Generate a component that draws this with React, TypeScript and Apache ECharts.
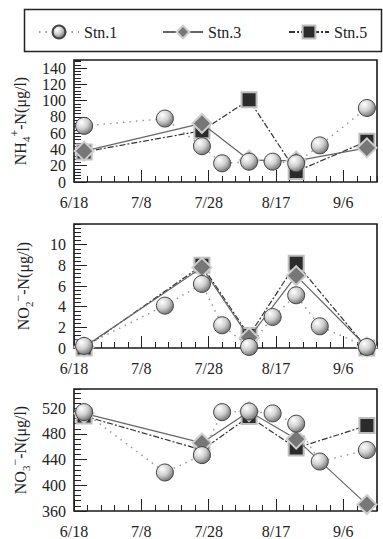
import React, { useEffect, useRef } from "react";
import * as echarts from "echarts";

// ---- data ----
const stn1Dates = ["6/21", "7/15", "7/26", "8/1", "8/9", "8/16", "8/23", "8/30", "9/13"];
const stn35Dates = ["6/21", "7/26", "8/9", "8/23", "9/13"];

const nh4Stn1 = [69, 78, 44, 23, 25, 25, 23, 45, 91];
const nh4Stn3 = [38, 72, 27, 26, 42];
const nh4Stn5 = [37, 63, 101, 13, 50];

const no2Stn1 = [0.2, 4.1, 6.2, 2.2, 0.1, 3.0, 5.1, 2.1, 0.1];
const no2Stn3 = [0.1, 7.8, 1.0, 7.0, 0.1];
const no2Stn5 = [0.0, 8.0, 1.2, 8.2, 0.0];

const no3Stn1 = [514, 420, 447, 514, 515, 512, 496, 437, 455];
const no3Stn3 = [512, 466, 515, 472, 370];
const no3Stn5 = [508, 455, 507, 458, 493];

const startDate = "6/18";
const xTickLabels = ["6/18", "7/8", "7/28", "8/17", "9/6"];

const FONT = "Liberation Serif";

function toDay(s: string) {
  const [m, d] = s.split("/").map(Number);
  return Date.UTC(2001, m - 1, d);
}
const day0 = toDay(startDate);
function offset(s: string) {
  return Math.round((toDay(s) - day0) / 86400000);
}
function fmtDay(v: number) {
  const dt = new Date(day0 + v * 86400000);
  return `${dt.getUTCMonth() + 1}/${dt.getUTCDate()}`;
}

const panels = [
  {
    top: 60,
    height: 122,
    min: 0,
    max: 150,
    major: 20,
    minor: 4,
    name: "{a|NH}{s|4}{p|+}{a|-N(μg/l)}",
    s1: nh4Stn1,
    s3: nh4Stn3,
    s5: nh4Stn5,
  },
  {
    top: 224,
    height: 124,
    min: 0,
    max: 12,
    major: 2,
    minor: 0.4,
    name: "{a|NO}{s|2}{p|−}{a|-N(μg/l)}",
    s1: no2Stn1,
    s3: no2Stn3,
    s5: no2Stn5,
  },
  {
    top: 389,
    height: 124,
    min: 360,
    max: 550,
    major: 40,
    minor: 8,
    name: "{a|NO}{s|3}{p|−}{a|-N(μg/l)}",
    s1: no3Stn1,
    s3: no3Stn3,
    s5: no3Stn5,
  },
];

export default function App() {
  const ref = useRef<HTMLDivElement>(null);
  useEffect(() => {
    if (!ref.current) return;
    const chart = echarts.init(ref.current, null, { renderer: "svg" });

    const circleColor = new echarts.graphic.RadialGradient(0.35, 0.3, 0.75, [
      { offset: 0, color: "#ffffff" },
      { offset: 0.5, color: "#d0d0d0" },
      { offset: 1, color: "#6e6e6e" },
    ]);

    const grids: any[] = [];
    const xAxes: any[] = [];
    const yAxes: any[] = [];
    const series: any[] = [];

    panels.forEach((p, i) => {
      grids.push({
        left: 74,
        width: 303,
        top: p.top,
        height: p.height,
        show: true,
        borderColor: "#1a1a1a",
        borderWidth: 1.6,
        backgroundColor: "transparent",
      });
      // minor x ticks (series axis)
      xAxes.push({
        type: "value",
        gridIndex: i,
        position: "bottom",
        min: 0,
        max: 90,
        interval: 4,
        axisLine: { show: false },
        axisTick: { show: true, inside: true, length: 6, lineStyle: { color: "#222", width: 1 } },
        axisLabel: { show: false },
        splitLine: { show: false },
      });
      // major x ticks + labels
      xAxes.push({
        type: "value",
        gridIndex: i,
        position: "bottom",
        min: 0,
        max: 90,
        interval: 20,
        axisLine: { show: false },
        axisTick: { show: true, inside: true, length: 12, lineStyle: { color: "#222", width: 1 } },
        axisLabel: {
          show: true,
          margin: 12,
          showMaxLabel: false,
          fontFamily: FONT,
          fontSize: 16,
          color: "#222",
          formatter: (v: number) => (v % 20 === 0 && v < 90 ? xTickLabels[v / 20] || fmtDay(v) : ""),
        },
        splitLine: { show: false },
      });
      // y axis with labels + major ticks (series axis)
      yAxes.push({
        type: "value",
        gridIndex: i,
        position: "left",
        min: p.min,
        max: p.max,
        interval: p.major,
        axisLine: { show: false },
        axisTick: { show: true, inside: true, length: 13, lineStyle: { color: "#222", width: 1 } },
        axisLabel: {
          show: true,
          margin: 8,
          showMaxLabel: false,
          fontFamily: FONT,
          fontSize: 16,
          color: "#222",
          formatter: (v: number) => (v >= p.max ? "" : String(Math.round(v * 10) / 10)),
        },
        splitLine: { show: false },
        name: p.name,
        nameLocation: "middle",
        nameRotate: 90,
        nameGap: 40,
        nameTextStyle: {
          rich: {
            a: { fontFamily: FONT, fontSize: 16, color: "#222", lineHeight: 22 },
            s: { fontFamily: FONT, fontSize: 11, color: "#222", verticalAlign: "bottom", lineHeight: 12 },
            p: { fontFamily: FONT, fontSize: 12, color: "#222", verticalAlign: "top", lineHeight: 12 },
          },
        },
      });
      // minor y ticks
      yAxes.push({
        type: "value",
        gridIndex: i,
        position: "left",
        min: p.min,
        max: p.max,
        interval: p.minor,
        axisLine: { show: false },
        axisTick: { show: true, inside: true, length: 7, lineStyle: { color: "#222", width: 1 } },
        axisLabel: { show: false },
        splitLine: { show: false },
      });

      const mk = (dates: string[], vals: number[]) => dates.map((d, k) => [offset(d), vals[k]]);

      series.push({
        name: "Stn.5",
        type: "line",
        xAxisIndex: 2 * i,
        yAxisIndex: 2 * i,
        z: 2,
        data: mk(stn35Dates, p.s5),
        symbol: "rect",
        symbolSize: 15,
        lineStyle: { color: "#333", width: 1.2, type: [6, 2, 2, 2] },
        itemStyle: { color: "#2b2b2b", borderColor: "#bdbdbd", borderWidth: 2 },
      });
      series.push({
        name: "Stn.3",
        type: "line",
        xAxisIndex: 2 * i,
        yAxisIndex: 2 * i,
        z: 3,
        data: mk(stn35Dates, p.s3),
        symbol: "diamond",
        symbolSize: 19,
        lineStyle: { color: "#666", width: 1.2, type: "solid" },
        itemStyle: { color: "#777", borderColor: "#cfcfcf", borderWidth: 2 },
      });
      series.push({
        name: "Stn.1",
        type: "line",
        xAxisIndex: 2 * i,
        yAxisIndex: 2 * i,
        z: 4,
        data: mk(stn1Dates, p.s1),
        symbol: "circle",
        symbolSize: 17,
        lineStyle: { color: "#999", width: 1.5, type: [1.5, 5] },
        itemStyle: { color: circleColor, borderColor: "#444", borderWidth: 1 },
      });
    });

    const legendBase = {
      top: 19,
      itemWidth: 40,
      itemHeight: 16,
      textStyle: { fontFamily: FONT, fontSize: 16, color: "#222" },
      selectedMode: false,
    };

    chart.setOption({
      animation: false,
      backgroundColor: "#ffffff",
      grid: grids,
      xAxis: xAxes,
      yAxis: yAxes,
      legend: [
        { ...legendBase, data: ["Stn.1"], left: 33 },
        { ...legendBase, data: ["Stn.3"], left: 157 },
        { ...legendBase, data: ["Stn.5"], left: 283 },
      ],
      graphic: [
        {
          type: "rect",
          left: 22,
          top: 7,
          shape: { width: 357, height: 42 },
          style: { fill: "none", stroke: "#222", lineWidth: 1.5 },
          silent: true,
        },
      ],
      series,
    });

    return () => chart.dispose();
  }, []);

  return (
    <div
      ref={ref}
      style={{ position: "fixed", left: 0, top: 0, width: 383, height: 539, background: "#fff" }}
    />
  );
}
